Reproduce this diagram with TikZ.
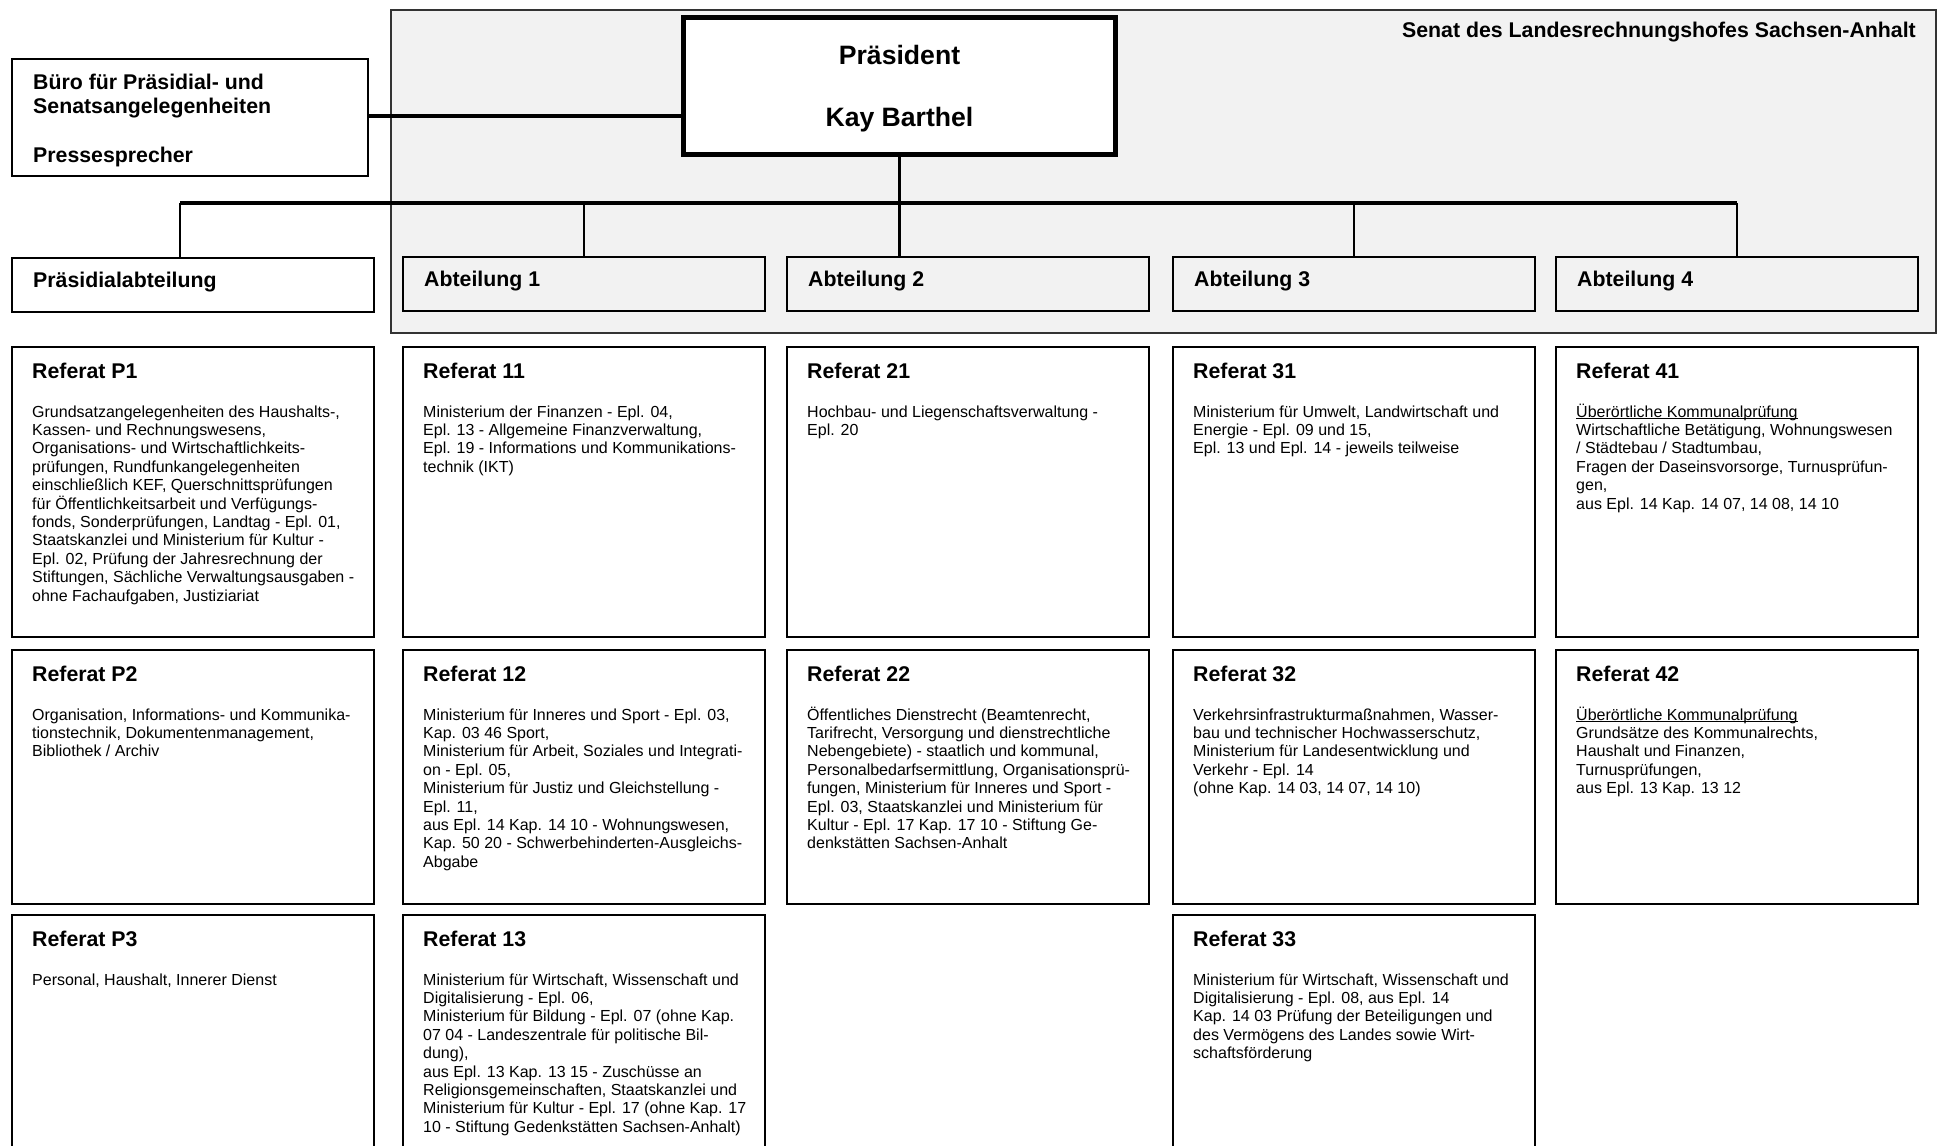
\documentclass[tikz,border=0pt]{standalone}
\usepackage{fontspec}
\setmainfont{Liberation Sans}
\usetikzlibrary{calc}
\definecolor{senatgray}{HTML}{F2F2F2}
\newsavebox\ulbox
\newcommand\ulinetext[1]{\leavevmode\sbox\ulbox{#1}\rlap{\rule[-2.2pt]{\wd\ulbox}{1.1pt}}\usebox\ulbox}
\tikzset{
  boxline/.style={draw=black, line width=2pt, inner sep=0pt, outer sep=0pt, rectangle},
  refrect/.style={boxline, fill=white, minimum width=362},
  abtrect/.style={boxline, fill=senatgray, minimum width=362, minimum height=54},
  senatrect/.style={draw=black!80, line width=2pt, fill=senatgray, inner sep=0pt, outer sep=0pt},
  praesrect/.style={draw=black, line width=5pt, fill=white, inner sep=0pt, outer sep=0pt},
  titletext/.style={font=\fontsize{21.3}{24.5}\selectfont\bfseries, inner sep=0pt, anchor=base west},
  bodytext/.style={font=\fontsize{16}{18.4}\selectfont, inner sep=0pt, anchor=base west},
  praestext/.style={font=\fontsize{26.6}{30}\selectfont\bfseries, inner sep=0pt, anchor=base},
  busline/.style={line width=3.2pt, black},
  stem/.style={line width=2.5pt, black},
}
\newcommand\refbox[6]{%
  \node[refrect, minimum height=#4] (#1) at ({#2+182},{#3+#4/2}) {};
  \node[titletext] (#1t) at ($(#1.north west)+(20,31)$) {#5};
  \node[bodytext] (#1b) at ($(#1.north west)+(20,70)$) {\parbox[t]{420pt}{\raggedright #6}};
}
\newcommand\abtbox[3]{%
  \node[abtrect] (#1) at ({#2+182},284) {};
  \node[titletext] (#1t) at ($(#1.west)+(21,2)$) {#3};
}
\begin{document}
\begin{tikzpicture}[x=1pt, y=-1pt]
\useasboundingbox (0,0) rectangle (1942,1145);
\fill[white] (0,0) rectangle (1942,1145);
\clip (0,0) rectangle (1942,1145);

% Senat area
\node[senatrect, minimum width=1545, minimum height=323] (senat) at (1163.5,171.5) {};
\node[titletext, anchor=base east] (senatlabel) at (1916,38) {Senat des Landesrechnungshofes Sachsen-Anhalt};

% Praesident
\node[praesrect, minimum width=432, minimum height=137] (praes) at (899.5,86) {};
\node[praestext] (praest1) at (899.5,65) {Präsident};
\node[praestext] (praest2) at (899.5,127) {Kay Barthel};

% Buero
\node[boxline, fill=white, minimum width=356, minimum height=117] (buero) at (190,117.5) {};
\node[titletext] (buerot) at (33,89.5) {\parbox[t]{330pt}{Büro für Präsidial- und\\Senatsangelegenheiten\\[24.5pt]Pressesprecher}};

% Abteilungen
\node[boxline, fill=white, minimum width=362, minimum height=54] (pabt) at (193,285) {};
\node[titletext] (pabtt) at (33,287) {Präsidialabteilung};
\abtbox{abt1}{402}{Abteilung 1}
\abtbox{abt2}{786}{Abteilung 2}
\abtbox{abt3}{1172}{Abteilung 3}
\abtbox{abt4}{1555}{Abteilung 4}

% connectors
\coordinate (busL) at (180,203);
\coordinate (busR) at (abt4.north |- busL);
\draw[busline] (buero.east |- 0,116) -- (praes.west |- 0,116);
\draw[busline] (busL) -- (busR);
\draw[stem] (busL) -- (busL |- pabt.north);
\draw[stem] (abt1.north |- busL) -- (abt1.north);
\draw[stem] (praes.south) -- (praes.south |- abt2.north);
\draw[stem] (abt3.north |- busL) -- (abt3.north);
\draw[stem] (busR) -- (abt4.north);

% Row 1
\refbox{rp1}{11}{347}{290}{Referat P1}{Grundsatzangelegenheiten des Haushalts-,\\Kassen- und Rechnungswesens,\\Organisations- und Wirtschaftlichkeits-\\prüfungen, Rundfunkangelegenheiten\\einschließlich KEF, Querschnittsprüfungen\\für Öffentlichkeitsarbeit und Verfügungs-\\fonds, Sonderprüfungen, Landtag - Epl. 01,\\Staatskanzlei und Ministerium für Kultur -\\Epl. 02, Prüfung der Jahresrechnung der\\Stiftungen, Sächliche Verwaltungsausgaben -\\ohne Fachaufgaben, Justiziariat}
\refbox{r11}{402}{347}{290}{Referat 11}{Ministerium der Finanzen - Epl. 04,\\Epl. 13 - Allgemeine Finanzverwaltung,\\Epl. 19 - Informations und Kommunikations-\\technik (IKT)}
\refbox{r21}{786}{347}{290}{Referat 21}{Hochbau- und Liegenschaftsverwaltung -\\Epl. 20}
\refbox{r31}{1172}{347}{290}{Referat 31}{Ministerium für Umwelt, Landwirtschaft und\\Energie - Epl. 09 und 15,\\Epl. 13 und Epl. 14 - jeweils teilweise}
\refbox{r41}{1555}{347}{290}{Referat 41}{\ulinetext{Überörtliche Kommunalprüfung}\\Wirtschaftliche Betätigung, Wohnungswesen\\/ Städtebau / Stadtumbau,\\Fragen der Daseinsvorsorge, Turnusprüfun-\\gen,\\aus Epl. 14 Kap. 14 07, 14 08, 14 10}

% Row 2
\refbox{rp2}{11}{650}{254}{Referat P2}{Organisation, Informations- und Kommunika-\\tionstechnik, Dokumentenmanagement,\\Bibliothek / Archiv}
\refbox{r12}{402}{650}{254}{Referat 12}{Ministerium für Inneres und Sport - Epl. 03,\\Kap. 03 46 Sport,\\Ministerium für Arbeit, Soziales und Integrati-\\on - Epl. 05,\\Ministerium für Justiz und Gleichstellung -\\Epl. 11,\\aus Epl. 14 Kap. 14 10 - Wohnungswesen,\\Kap. 50 20 - Schwerbehinderten-Ausgleichs-\\Abgabe}
\refbox{r22}{786}{650}{254}{Referat 22}{Öffentliches Dienstrecht (Beamtenrecht,\\Tarifrecht, Versorgung und dienstrechtliche\\Nebengebiete) - staatlich und kommunal,\\Personalbedarfsermittlung, Organisationsprü-\\fungen, Ministerium für Inneres und Sport -\\Epl. 03, Staatskanzlei und Ministerium für\\Kultur - Epl. 17 Kap. 17 10 - Stiftung Ge-\\denkstätten Sachsen-Anhalt}
\refbox{r32}{1172}{650}{254}{Referat 32}{Verkehrsinfrastrukturmaßnahmen, Wasser-\\bau und technischer Hochwasserschutz,\\Ministerium für Landesentwicklung und\\Verkehr - Epl. 14\\(ohne Kap. 14 03, 14 07, 14 10)}
\refbox{r42}{1555}{650}{254}{Referat 42}{\ulinetext{Überörtliche Kommunalprüfung}\\Grundsätze des Kommunalrechts,\\Haushalt und Finanzen,\\Turnusprüfungen,\\aus Epl. 13 Kap. 13 12}

% Row 3
\refbox{rp3}{11}{915}{250}{Referat P3}{Personal, Haushalt, Innerer Dienst}
\refbox{r13}{402}{915}{250}{Referat 13}{Ministerium für Wirtschaft, Wissenschaft und\\Digitalisierung - Epl. 06,\\Ministerium für Bildung - Epl. 07 (ohne Kap.\\07 04 - Landeszentrale für politische Bil-\\dung),\\aus Epl. 13 Kap. 13 15 - Zuschüsse an\\Religionsgemeinschaften, Staatskanzlei und\\Ministerium für Kultur - Epl. 17 (ohne Kap. 17\\10 - Stiftung Gedenkstätten Sachsen-Anhalt)}
\refbox{r33}{1172}{915}{250}{Referat 33}{Ministerium für Wirtschaft, Wissenschaft und\\Digitalisierung - Epl. 08, aus Epl. 14\\Kap. 14 03 Prüfung der Beteiligungen und\\des Vermögens des Landes sowie Wirt-\\schaftsförderung}
\end{tikzpicture}
\end{document}
